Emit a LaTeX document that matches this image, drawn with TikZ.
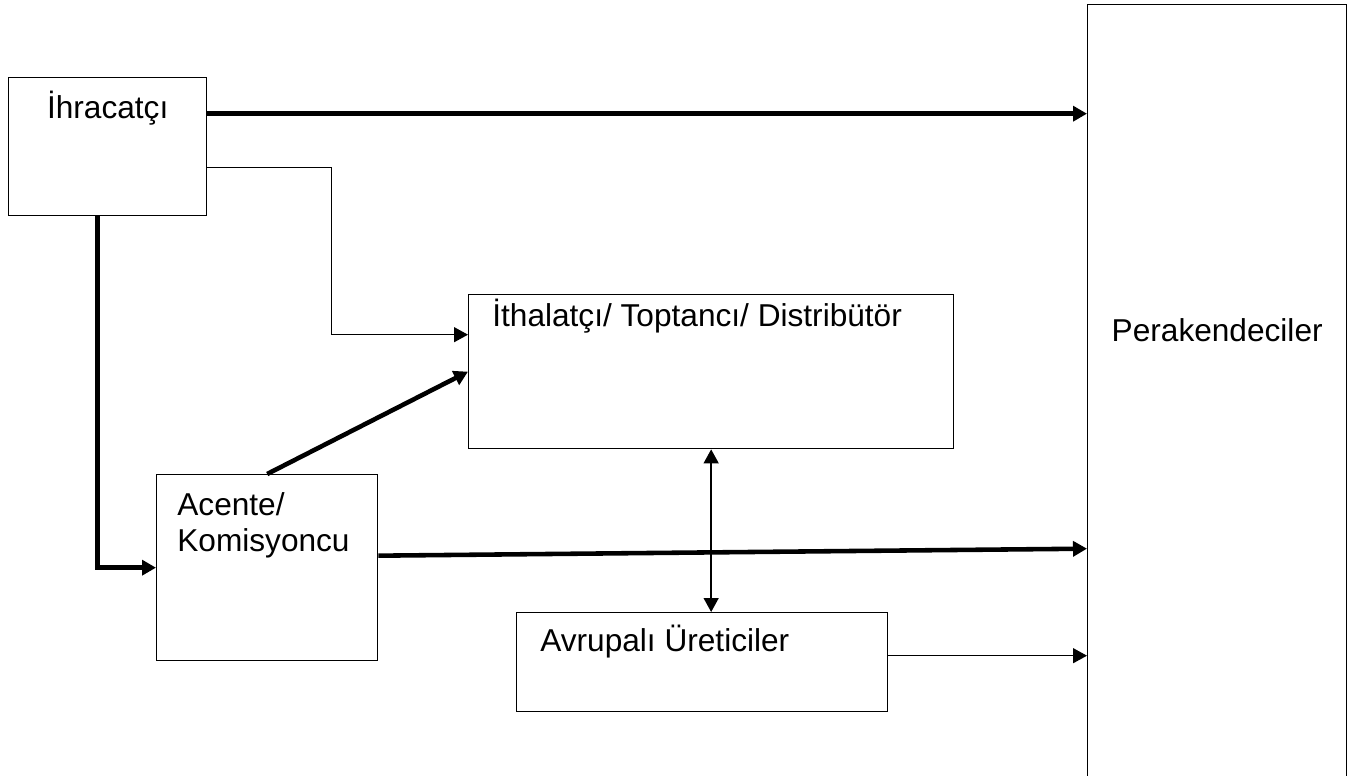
\documentclass[tikz,border=0pt]{standalone}
\usepackage{fontspec}
\setmainfont{Liberation Sans}
\usetikzlibrary{arrows.meta}

\begin{document}
\begin{tikzpicture}[
    x=0.02cm, y=-0.02cm,
    >={Triangle[length=0.28cm, width=0.3cm]},
    box/.style={
        rectangle,
        draw,
        line width=0.8pt,
        inner sep=0pt,
        anchor=north west
    },
    txt/.style={
        inner sep=0pt,
        font=\fontsize{18}{21}\selectfont
    },
    thin arrow/.style={
        ->,
        line width=0.8pt
    },
    thick arrow/.style={
        ->,
        line width=2.6pt
    }
]

    \useasboundingbox (0,0) rectangle (1357,776);

    % Boxes
    \node[box, minimum width=3.96cm, minimum height=2.76cm] (ihr) at (8,77) {};
    \node[box, minimum width=5.18cm, minimum height=15.72cm] (perak) at (1087,4) {};
    \node[box, minimum width=9.70cm, minimum height=3.08cm] (ith) at (468,294) {};
    \node[box, minimum width=4.42cm, minimum height=3.72cm] (acente) at (156,474) {};
    \node[box, minimum width=7.42cm, minimum height=1.98cm] (avr) at (516,612) {};

    % Texts
    \node[txt, anchor=base] (ihrT) at ([yshift=-0.84cm]ihr.north) {İhracatçı};
    \node[txt, anchor=base] (perakT) at ([yshift=-6.76cm]perak.north) {Perakendeciler};
    \node[txt, anchor=base west] (ithT) at ([shift={(0.48cm,-0.66cm)}]ith.north west) {İthalatçı/ Toptancı/ Distribütör};
    % base of a two-line node is its last line
    \node[txt, anchor=base west, align=left] (acenteT) at ([shift={(0.42cm,-1.56cm)}]acente.north west) {Acente/\\Komisyoncu};
    \node[txt, anchor=base west] (avrT) at ([shift={(0.48cm,-0.80cm)}]avr.north west) {Avrupalı Üreticiler};

    % Ports
    \coordinate (ihrR1) at ([yshift=0.66cm]ihr.east);
    \coordinate (ihrR2) at ([yshift=-0.42cm]ihr.east);
    \coordinate (ihrB) at ([xshift=-0.2cm]ihr.south);
    \coordinate (ithL) at ([yshift=0.74cm]ith.west);
    \coordinate (acenteR) at ([yshift=0.24cm]acente.east);
    \coordinate (acenteR2) at ([yshift=0.38cm]acente.east);
    \coordinate (avrR) at ([yshift=0.13cm]avr.east);

    % Connectors
    \draw[thick arrow] (ihrR1) -- (ihrR1 -| perak.west);
    \draw[thin arrow] (ihrR2) -- ++(124,0) |- (ithL);
    \draw[thick arrow] (ihrB) |- (acente.west);
    \draw[thick arrow] (acente.north) -- (ith.west);
    \draw[thick arrow] (acenteR) -- (acenteR2 -| perak.west);
    \draw[thin arrow, <->] (ith.south) -- (ith.south |- avr.north);
    \draw[thin arrow] (avrR) -- (avrR -| perak.west);

\end{tikzpicture}
\end{document}
